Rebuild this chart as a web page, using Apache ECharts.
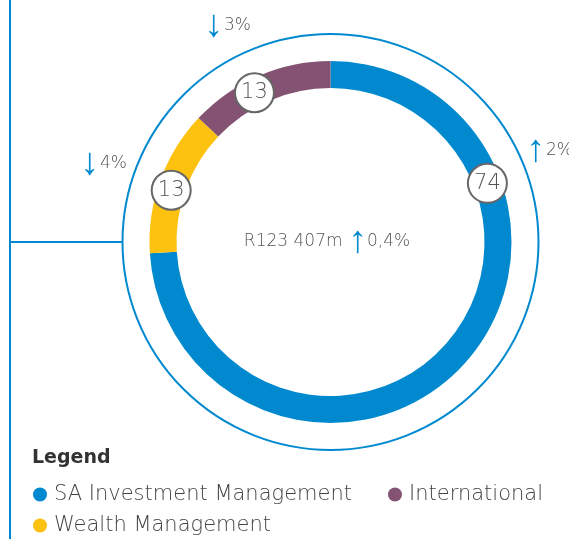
<!DOCTYPE html>
<html>
<head>
<meta charset="utf-8">
<script src="https://cdn.jsdelivr.net/npm/echarts@6/dist/echarts.min.js"></script>
<style>
  html, body { margin: 0; padding: 0; background: #fff; }
  #chart { width: 569px; height: 539px; }
</style>
</head>
<body>
<div id="chart"></div>
<script>
// values
const segments = ["SA Investment Management", "Wealth Management", "International"];
const shares = [74, 13, 13];
const changes = ["2%", "4%", "3%"];
const trends = ["up", "down", "down"];
const totalValue = "R123 407m";
const totalChange = "0,4%";
const totalTrend = "up";
const legendRow1 = ["SA Investment Management", "International"];
const legendRow2 = ["Wealth Management"];

const colors = ["#0089cf", "#fdc110", "#845373"];
const blue = "#0089cf";
const grey = "#555555";
const font = "DejaVu Sans";
const light = 200;

const cx = 330.5, cy = 242;
const rIn = 154, rOut = 181;

const arrow = t => (t === "up" ? "\u2191" : "\u2193");

// where the change notes sit, next to each slice
const notePos = [[526, 151], [80, 164], [204, 26]];
// angle (deg, clockwise from 12 o'clock) of each number badge on the ring
const badgeDeg = [69.5, 288, 333];

const rich = {
  a: { fontFamily: "Liberation Sans", fontSize: 38, fill: blue, lineHeight: 38 },
  t: { fontFamily: font, fontWeight: light, fontSize: 17, fill: grey, padding: [0, 0, 0, 1] },
  v: { fontFamily: font, fontWeight: light, fontSize: 17, fill: grey }
};

const graphics = [
  { type: "circle", silent: true,
    shape: { cx: cx, cy: cy, r: 208 },
    style: { fill: "none", stroke: blue, lineWidth: 2 } },
  { type: "polyline", silent: true,
    shape: { points: [[10, 0], [10, 539]] },
    style: { stroke: blue, lineWidth: 2, fill: "none" } },
  { type: "polyline", silent: true,
    shape: { points: [[10, cy], [cx - 208, cy]] },
    style: { stroke: blue, lineWidth: 2, fill: "none" } },
  { type: "text", silent: true,
    style: {
      x: 327, y: cy, align: "center", verticalAlign: "middle",
      text: "{v|" + totalValue + " }{a|" + arrow(totalTrend) + "}{v|" + totalChange + "}",
      rich: rich
    } }
];

changes.forEach((c, i) => {
  graphics.push({
    type: "text", silent: true,
    style: {
      x: notePos[i][0], y: notePos[i][1], align: "left", verticalAlign: "middle",
      text: "{a|" + arrow(trends[i]) + "}{t|" + c + "}",
      rich: rich
    }
  });
});

const legendText = { fontFamily: font, fontWeight: light, fontSize: 21, color: "#444", lineHeight: 21, padding: [0, 0, 0, 2] };

const chart = echarts.init(document.getElementById("chart"));
chart.setOption({
  animation: false,
  color: colors,
  title: {
    text: "Legend",
    left: 32, top: 449, padding: 0,
    textStyle: { fontFamily: font, fontSize: 19, fontWeight: "bold", color: "#333" }
  },
  legend: [
    {
      data: legendRow1, left: 33, top: 484, padding: 0,
      icon: "circle", itemWidth: 14, itemHeight: 14, itemGap: 36,
      selectedMode: false,
      textStyle: legendText
    },
    {
      data: legendRow2, left: 33, top: 515, padding: 0,
      icon: "circle", itemWidth: 14, itemHeight: 14,
      selectedMode: false,
      textStyle: legendText
    }
  ],
  graphic: graphics,
  series: [
    {
      type: "pie",
      center: [cx, cy],
      radius: [rIn, rOut],
      startAngle: 90,
      clockwise: true,
      silent: true,
      emphasis: { disabled: true },
      label: {
        show: true,
        position: "inside",
        formatter: "{c}",
        fontFamily: font,
        fontWeight: light,
        fontSize: 21,
        color: grey,
        backgroundColor: "#fff",
        borderColor: "#666",
        borderWidth: 2,
        borderRadius: 20,
        width: 37,
        height: 37,
        lineHeight: 37,
        align: "center",
        padding: 0
      },
      labelLine: { show: false },
      labelLayout: function (p) {
        const a = badgeDeg[p.dataIndex] * Math.PI / 180, rm = (rIn + rOut) / 2;
        return { x: cx + rm * Math.sin(a), y: cy - rm * Math.cos(a) };
      },
      data: segments.map((n, i) => ({ name: n, value: shares[i] }))
    }
  ]
});
</script>
</body>
</html>
